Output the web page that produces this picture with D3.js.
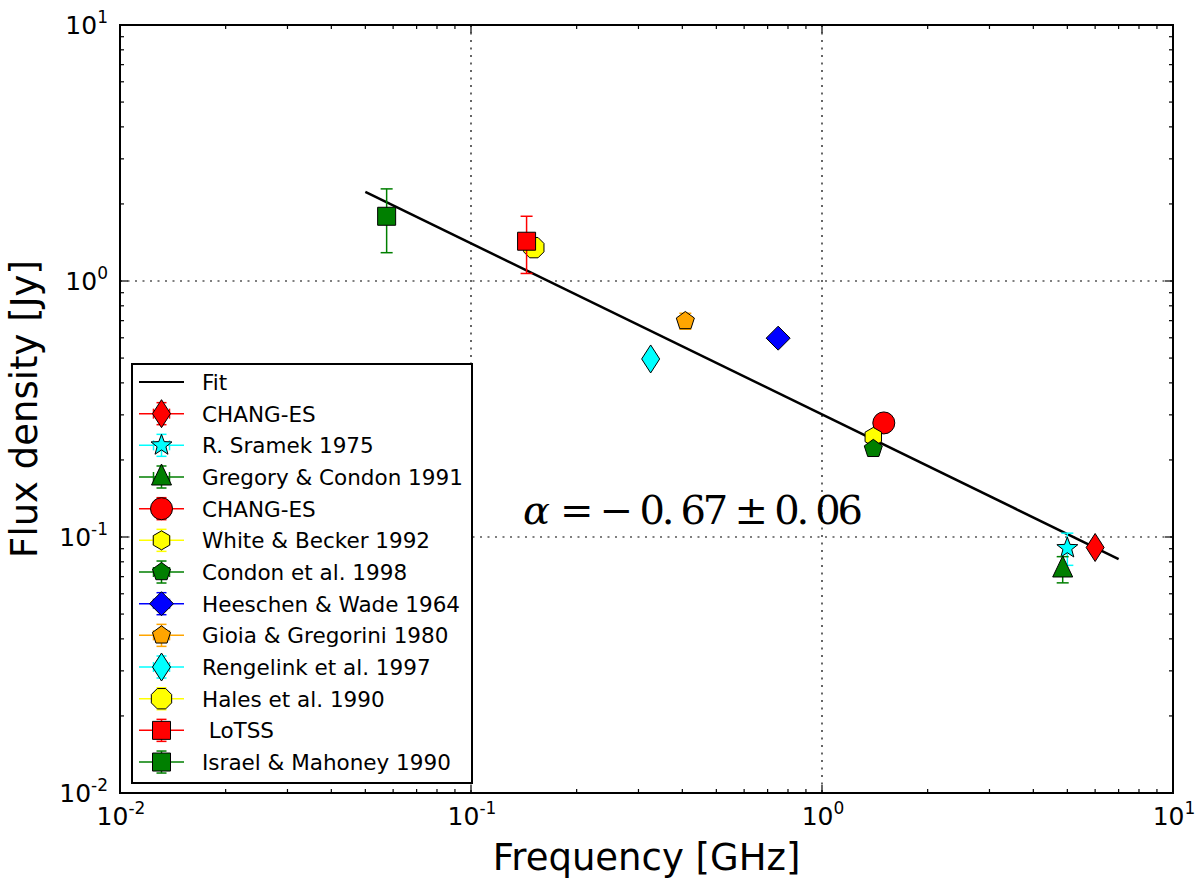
<!DOCTYPE html>
<html>
<head>
<meta charset="utf-8">
<script src="https://cdn.jsdelivr.net/npm/d3@7"></script>
<style>
  body { margin: 0; background: #fff; }
  svg text { font-family: "DejaVu Sans", sans-serif; }
</style>
</head>
<body>
<div id="chart"></div>
<script>
// 数据系列（按图例顺序）
const seriesLabels = ['CHANG-ES', 'R. Sramek 1975', 'Gregory & Condon 1991', 'CHANG-ES',
  'White & Becker 1992', 'Condon et al. 1998', 'Heeschen & Wade 1964', 'Gioia & Gregorini 1980',
  'Rengelink et al. 1997', 'Hales et al. 1990', ' LoTSS', 'Israel & Mahoney 1990'];
const freqGHz = [6.0, 5.0, 4.85, 1.5, 1.4, 1.4, 0.75, 0.408, 0.325, 0.151, 0.144, 0.0575];
const fluxJy = [0.091, 0.0905, 0.075, 0.279, 0.246, 0.221, 0.598, 0.698, 0.496, 1.35, 1.43, 1.79];
const fluxErr = [0.004, 0.013, 0.0088, 0.008, 0.006, 0.007, 0.02, 0.05, 0.02, 0.05, 0.36, 0.5];
const colors = ['#ff0000', '#00ffff', '#007f00', '#ff0000', '#ffff00', '#007f00',
  '#0000ff', '#ffa500', '#00ffff', '#ffff00', '#ff0000', '#007f00'];
const markers = ['thin_diamond', 'star', 'triangle', 'circle', 'hexagon', 'pentagon',
  'diamond', 'pentagon', 'thin_diamond', 'octagon', 'square', 'square'];

// 拟合直线端点
const fitFreq = [0.05, 7.0];
const fitFlux = [2.23, 0.082];
const fitText = ['α', '= − 0. 67 ± 0. 06'];

const xMajor = [1e-2, 1e-1, 1e0, 1e1];
const yMajor = [1e-2, 1e-1, 1e0, 1e1];
const majorExp = [-2, -1, 0, 1];

const W = 1200, H = 887;
const margin = { left: 120, right: 27, top: 25, bottom: 94 };

const svg = d3.select('#chart').append('svg')
  .attr('width', W).attr('height', H);

const x = d3.scaleLog().domain([1e-2, 1e1]).range([margin.left, W - margin.right]);
const y = d3.scaleLog().domain([1e-2, 1e1]).range([H - margin.bottom, margin.top]);

const x0 = x.range()[0], x1 = x.range()[1];
const y0 = y.range()[0], y1 = y.range()[1];

// 次刻度
function minorTicks() {
  const out = [];
  for (let e = -2; e < 1; e++) {
    for (let m = 2; m <= 9; m++) out.push(m * Math.pow(10, e));
  }
  return out;
}
const minors = minorTicks();

// 网格线
const grid = svg.append('g')
  .attr('stroke', '#000').attr('stroke-width', 1.2).attr('stroke-dasharray', '2,5.5');
xMajor.slice(1, -1).forEach(v => {
  grid.append('line').attr('x1', x(v)).attr('x2', x(v)).attr('y1', y1).attr('y2', y0);
});
yMajor.slice(1, -1).forEach(v => {
  grid.append('line').attr('y1', y(v)).attr('y2', y(v)).attr('x1', x0).attr('x2', x1);
});

// 形状
function polygon(n, r, rot) {
  const pts = d3.range(n).map(i => {
    const a = rot + i * 2 * Math.PI / n;
    return [r * Math.sin(a), -r * Math.cos(a)];
  });
  return 'M' + pts.map(p => p.join(',')).join('L') + 'Z';
}
function starPath(r) {
  const pts = d3.range(10).map(i => {
    const rr = i % 2 ? r * 0.42 : r;
    const a = i * Math.PI / 5;
    return [rr * Math.sin(a), -rr * Math.cos(a)];
  });
  return 'M' + pts.map(p => p.join(',')).join('L') + 'Z';
}
function markerPath(type) {
  switch (type) {
    case 'thin_diamond': return 'M0,-14L9,0L0,14L-9,0Z';
    case 'diamond': return 'M0,-12L12,0L0,12L-12,0Z';
    case 'star': return starPath(11);
    case 'triangle': return 'M0,-13L10,8L-10,8Z';
    case 'circle': return d3.symbol(d3.symbolCircle, Math.PI * 11 * 11)();
    case 'hexagon': return polygon(6, 9.5, 0);
    case 'pentagon': return polygon(5, 9.5, 0);
    case 'octagon': return polygon(8, 11, Math.PI / 8);
    case 'square': return 'M-9,-9L9,-9L9,9L-9,9Z';
  }
}

// 拟合线
svg.append('path')
  .datum(fitFreq.map((f, i) => [f, fitFlux[i]]))
  .attr('fill', 'none').attr('stroke', '#000').attr('stroke-width', 2.5)
  .attr('d', d3.line().x(d => x(d[0])).y(d => y(d[1])));

// 数据点
const pts = svg.append('g');
seriesLabels.forEach((lab, i) => {
  const cx = x(freqGHz[i]);
  const yt = y(fluxJy[i] + fluxErr[i]);
  const yb = y(fluxJy[i] - fluxErr[i]);
  const g = pts.append('g').attr('stroke', colors[i]).attr('stroke-width', 1.5);
  g.append('line').attr('x1', cx).attr('x2', cx).attr('y1', yt).attr('y2', yb);
  g.append('line').attr('x1', cx - 6).attr('x2', cx + 6).attr('y1', yt).attr('y2', yt);
  g.append('line').attr('x1', cx - 6).attr('x2', cx + 6).attr('y1', yb).attr('y2', yb);
  pts.append('path')
    .attr('d', markerPath(markers[i]))
    .attr('transform', `translate(${cx},${y(fluxJy[i])})`)
    .attr('fill', colors[i]).attr('stroke', '#000').attr('stroke-width', 1);
});

// 坐标轴框与刻度
const axes = svg.append('g').attr('stroke', '#000');
axes.append('rect')
  .attr('x', x0).attr('y', y1).attr('width', x1 - x0).attr('height', y0 - y1)
  .attr('fill', 'none').attr('stroke-width', 2);
function tickSet(vals, len) {
  vals.forEach(v => {
    const px = x(v), py = y(v);
    axes.append('line').attr('x1', px).attr('x2', px).attr('y1', y0).attr('y2', y0 - len);
    axes.append('line').attr('x1', px).attr('x2', px).attr('y1', y1).attr('y2', y1 + len);
    axes.append('line').attr('y1', py).attr('y2', py).attr('x1', x0).attr('x2', x0 + len);
    axes.append('line').attr('y1', py).attr('y2', py).attr('x1', x1).attr('x2', x1 - len);
  });
}
axes.attr('stroke-width', 1.2);
tickSet(xMajor, 8);
tickSet(minors, 4);

// 刻度标签
function powLabel(sel, e) {
  sel.append('tspan').text('10');
  sel.append('tspan').attr('dy', -11).attr('font-size', 17).text(e);
}
xMajor.forEach((v, i) => {
  const t = svg.append('text').attr('x', x(v) + 1).attr('y', y0 + 32)
    .attr('text-anchor', 'middle').attr('font-size', 25);
  powLabel(t, majorExp[i]);
});
yMajor.forEach((v, i) => {
  const t = svg.append('text').attr('x', x0 - 12).attr('y', y(v) + 9)
    .attr('text-anchor', 'end').attr('font-size', 25);
  powLabel(t, majorExp[i]);
});

// 轴标题
svg.append('text')
  .attr('x', (x0 + x1) / 2).attr('y', 870)
  .attr('text-anchor', 'middle').attr('font-size', 37)
  .text('Frequency [GHz]');
svg.append('text')
  .attr('transform', `translate(37,${(y0 + y1) / 2}) rotate(-90)`)
  .attr('text-anchor', 'middle').attr('font-size', 37)
  .text('Flux density [Jy]');

// 谱指数
svg.append('text')
  .attr('x', 523).attr('y', 524).attr('font-size', 40)
  .attr('font-style', 'italic')
  .style('font-family', '"DejaVu Serif", serif')
  .text(fitText[0]);
svg.append('text')
  .attr('x', 560).attr('y', 524).attr('font-size', 40)
  .style('font-family', '"DejaVu Serif", serif')
  .attr('textLength', 303).attr('lengthAdjust', 'spacing')
  .text(fitText[1]);

// 图例
const lg = svg.append('g');
const lgX = 132, lgY = 364, lgW = 340, lgH = 419, rowH = 31.67;
lg.append('rect').attr('x', lgX).attr('y', lgY).attr('width', lgW).attr('height', lgH)
  .attr('fill', '#fff').attr('stroke', '#000').attr('stroke-width', 2);
const rowY = k => 382 + k * rowH;
lg.append('line').attr('x1', 139).attr('x2', 184).attr('y1', rowY(0)).attr('y2', rowY(0))
  .attr('stroke', '#000').attr('stroke-width', 2);
lg.append('text').attr('x', 202).attr('y', rowY(0) + 8).attr('font-size', 21.5).text('Fit');
seriesLabels.forEach((lab, i) => {
  const cy = rowY(i + 1), cx = 161.5;
  const g = lg.append('g').attr('stroke', colors[i]).attr('stroke-width', 1.5);
  g.append('line').attr('x1', 139).attr('x2', 184).attr('y1', cy).attr('y2', cy);
  g.append('line').attr('x1', cx - 8).attr('x2', cx - 8).attr('y1', cy - 5).attr('y2', cy + 5);
  g.append('line').attr('x1', cx + 8).attr('x2', cx + 8).attr('y1', cy - 5).attr('y2', cy + 5);
  g.append('line').attr('x1', cx).attr('x2', cx).attr('y1', cy - 11).attr('y2', cy + 11);
  g.append('line').attr('x1', cx - 5).attr('x2', cx + 5).attr('y1', cy - 11).attr('y2', cy - 11);
  g.append('line').attr('x1', cx - 5).attr('x2', cx + 5).attr('y1', cy + 11).attr('y2', cy + 11);
  lg.append('path')
    .attr('d', markerPath(markers[i]))
    .attr('transform', `translate(${cx},${cy})`)
    .attr('fill', colors[i]).attr('stroke', '#000').attr('stroke-width', 1);
  lg.append('text').attr('x', 202).attr('y', cy + 8).attr('font-size', 21.5)
    .style('white-space', 'pre').text(lab);
});
</script>
</body>
</html>
